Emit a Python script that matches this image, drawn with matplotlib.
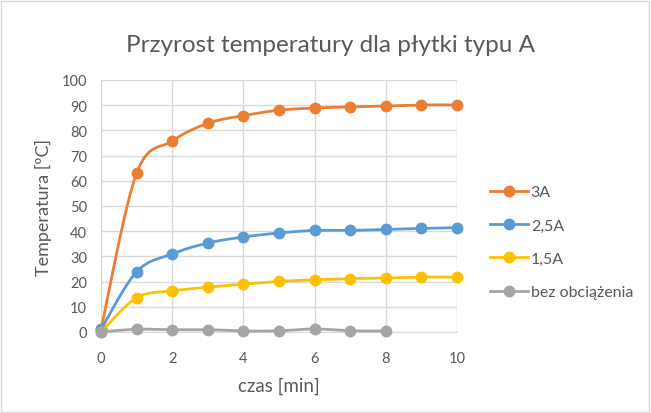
import numpy as np
import matplotlib
matplotlib.use("Agg")
import matplotlib.pyplot as plt
from matplotlib.patches import Rectangle

x_min = [0, 1, 2, 3, 4, 5, 6, 7, 8, 9, 10]
x_gray = [0, 1, 2, 3, 4, 5, 6, 7, 8]
s_3A = [1, 63, 75.8, 82.8, 85.9, 88, 88.9, 89.3, 89.7, 90.1, 90.1]
s_25A = [1, 23.9, 31, 35.3, 37.7, 39.3, 40.3, 40.3, 40.7, 41.1, 41.4]
s_15A = [0, 13.6, 16.3, 17.8, 19, 20.1, 20.7, 21.2, 21.4, 21.8, 21.8]
s_bez = [0, 1.1, 0.9, 0.9, 0.4, 0.5, 1.2, 0.5, 0.4]
labels = ["3A", "2,5A", "1,5A", "bez obciążenia"]
colors = ["#ED7D31", "#5B9BD5", "#FFC000", "#A5A5A5"]

title = "Przyrost temperatury dla płytki typu A"
xlabel = "czas [min]"
ylabel = "Temperatura [ºC]"

plt.rcParams['font.family'] = ['Lato', 'DejaVu Sans']


def smooth(xs, ys, n=30, t=0.5):
    xs = np.asarray(xs, float)
    ys = np.asarray(ys, float)
    px, py = [], []
    m = len(xs)
    for i in range(m - 1):
        x0, y0 = (xs[i - 1], ys[i - 1]) if i > 0 else (xs[i], ys[i])
        x1, y1 = xs[i], ys[i]
        x2, y2 = xs[i + 1], ys[i + 1]
        x3, y3 = (xs[i + 2], ys[i + 2]) if i + 2 < m else (x2, y2)
        c1x = x1 + (x2 - x0) * t / 3
        c1y = y1 + (y2 - y0) * t / 3
        c2x = x2 - (x3 - x1) * t / 3
        c2y = y2 - (y3 - y1) * t / 3
        u = np.linspace(0, 1, n)
        bx = (1 - u) ** 3 * x1 + 3 * (1 - u) ** 2 * u * c1x + 3 * (1 - u) * u ** 2 * c2x + u ** 3 * x2
        by = (1 - u) ** 3 * y1 + 3 * (1 - u) ** 2 * u * c1y + 3 * (1 - u) * u ** 2 * c2y + u ** 3 * y2
        px.extend(bx)
        py.extend(by)
    return np.array(px), np.array(py)


fig = plt.figure(figsize=(6.51, 4.14), dpi=100)
ax = fig.add_axes([101 / 651, 1 - 333 / 414, 356 / 651, 252 / 414])

series = [(x_min, s_3A), (x_min, s_25A), (x_min, s_15A), (x_gray, s_bez)]
handles = []
for i, ((xs, ys), lab, col) in enumerate(zip(series, labels, colors)):
    sx, sy = smooth(xs, ys)
    ax.plot(sx, sy, color=col, lw=2.0, zorder=3 + i, solid_capstyle='round', clip_on=False)
    ax.plot(xs, ys, 'o', color=col, ms=7.5, zorder=3 + i, clip_on=False)
    h, = ax.plot([], [], color=col, lw=2.0, marker='o', ms=7.5, label=lab)
    handles.append(h)

ax.set_xlim(0, 10)
ax.set_ylim(0, 100)
ax.set_xticks(range(0, 11, 2))
ax.set_yticks(range(0, 101, 10))
ax.grid(True, color='#D9D9D9', lw=1)
ax.set_axisbelow(True)
for s in ax.spines.values():
    s.set_visible(False)
ax.spines['bottom'].set_visible(True)
ax.spines['bottom'].set_color('#D9D9D9')
ax.tick_params(length=0, labelsize=10.5, labelcolor='#595959')
ax.tick_params(axis='x', pad=14)
ax.tick_params(axis='y', pad=10)

ax.set_xlabel(xlabel, fontsize=13.5, color='#595959')
ax.set_ylabel(ylabel, fontsize=13, color='#595959')
ax.xaxis.set_label_coords(0.5, (333 - 386) / 252)
ax.yaxis.set_label_coords((43 - 101) / 356, 0.5)
ax.xaxis.label.set_va('center')
ax.yaxis.label.set_va('center')

fig.text(331 / 651, 1 - 45 / 414, title, ha='center', va='center', fontsize=17.5, color='#595959')

fig.legend(handles=handles, loc='upper left', bbox_to_anchor=(490 / 651, 1 - 186 / 414),
           frameon=False, fontsize=11.5, labelcolor='#595959', handlelength=2.4,
           handletextpad=0.15, labelspacing=1.2, borderaxespad=0, borderpad=0)

fig.patches.append(Rectangle((1 / 651, 1 / 414), 1 - 3 / 651, 1 - 3 / 414, transform=fig.transFigure,
                             fill=False, edgecolor='#D9D9D9', lw=1))

fig.savefig('out.png', dpi=100)
